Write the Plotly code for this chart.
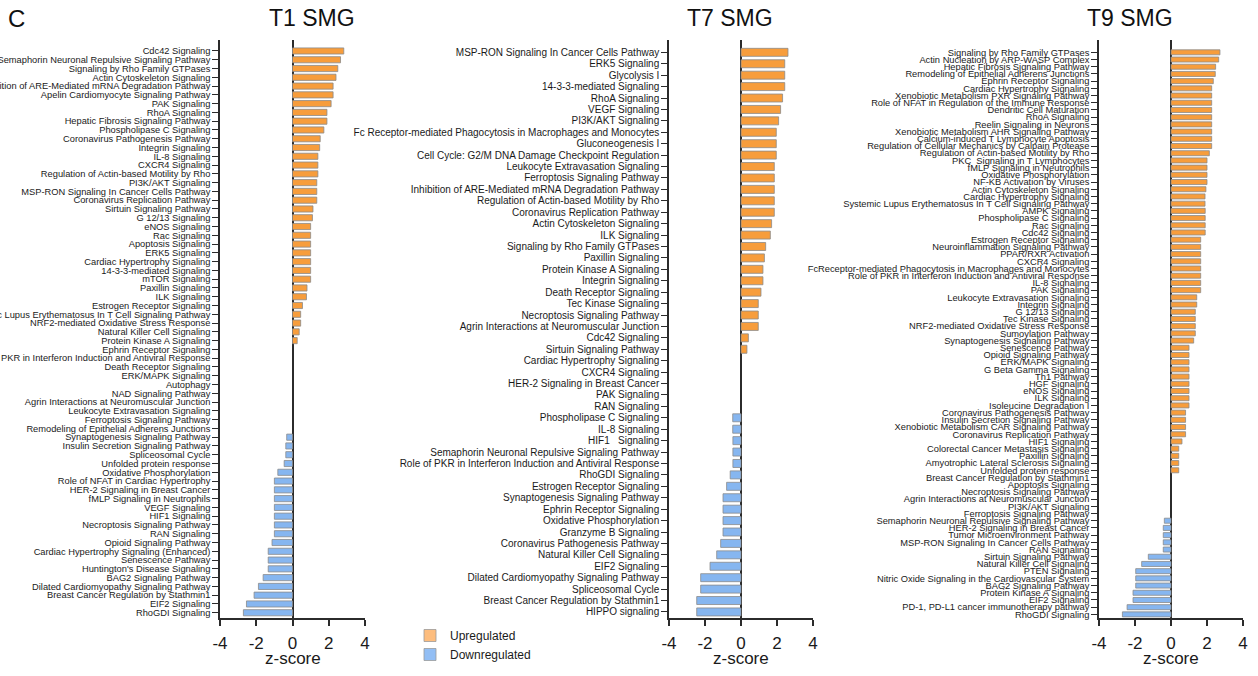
import plotly.graph_objects as go

# ---------------- data ----------------
t1_labels = [
    "Cdc42 Signaling", "Semaphorin Neuronal Repulsive Signaling Pathway", "Signaling by Rho Family GTPases",
    "Actin Cytoskeleton Signaling", "Inhibition of ARE-Mediated mRNA Degradation Pathway",
    "Apelin Cardiomyocyte Signaling Pathway", "PAK Signaling", "RhoA Signaling",
    "Hepatic Fibrosis Signaling Pathway", "Phospholipase C Signaling", "Coronavirus Pathogenesis Pathway",
    "Integrin Signaling", "IL-8 Signaling", "CXCR4 Signaling", "Regulation of Actin-based Motility by Rho",
    "PI3K/AKT Signaling", "MSP-RON Signaling In Cancer Cells Pathway", "Coronavirus Replication Pathway",
    "Sirtuin Signaling Pathway", "G 12/13 Signaling", "eNOS Signaling", "Rac Signaling",
    "Apoptosis Signaling", "ERK5 Signaling", "Cardiac Hypertrophy Signaling", "14-3-3-mediated Signaling",
    "mTOR Signaling", "Paxillin Signaling", "ILK Signaling", "Estrogen Receptor Signaling",
    "Systemic Lupus Erythematosus In T Cell Signaling Pathway", "NRF2-mediated Oxidative Stress Response",
    "Natural Killer Cell Signaling", "Protein Kinase A Signaling", "Ephrin Receptor Signaling",
    "Role of PKR in Interferon Induction and Antiviral Response", "Death Receptor Signaling",
    "ERK/MAPK Signaling", "Autophagy", "NAD Signaling Pathway",
    "Agrin Interactions at Neuromuscular Junction", "Leukocyte Extravasation Signaling",
    "Ferroptosis Signaling Pathway", "Remodeling of Epithelial Adherens Junctions",
    "Synaptogenesis Signaling Pathway", "Insulin Secretion Signaling Pathway", "Spliceosomal Cycle",
    "Unfolded protein response", "Oxidative Phosphorylation", "Role of NFAT in Cardiac Hypertrophy",
    "HER-2 Signaling in Breast Cancer", "fMLP Signaling in Neutrophils", "VEGF Signaling",
    "HIF1 Signaling", "Necroptosis Signaling Pathway", "RAN Signaling", "Opioid Signaling Pathway",
    "Cardiac Hypertrophy Signaling (Enhanced)", "Senescence Pathway", "Huntington's Disease Signaling",
    "BAG2 Signaling Pathway", "Dilated Cardiomyopathy Signaling Pathway",
    "Breast Cancer Regulation by Stathmin1", "EIF2 Signaling", "RhoGDI Signaling",
]
t1_values = [
    2.83, 2.65, 2.5, 2.4, 2.24, 2.24, 2.13, 1.9, 1.9, 1.73, 1.53, 1.5, 1.4, 1.4, 1.4,
    1.34, 1.34, 1.34, 1.13, 1.1, 1.0, 1.0, 1.0, 1.0, 1.0, 1.0, 1.0, 0.8, 0.77, 0.55,
    0.45, 0.45, 0.37, 0.26, 0, 0, 0, 0, 0, 0, 0, 0, 0, 0,
    -0.32, -0.37, -0.37, -0.46, -0.81, -1.0, -1.0, -1.0, -1.0, -1.0, -1.0, -1.0, -1.13,
    -1.34, -1.34, -1.34, -1.62, -1.88, -2.12, -2.54, -2.71,
]

t7_labels = [
    "MSP-RON Signaling In Cancer Cells Pathway", "ERK5 Signaling", "Glycolysis I",
    "14-3-3-mediated Signaling", "RhoA Signaling", "VEGF Signaling", "PI3K/AKT Signaling",
    "Fc Receptor-mediated Phagocytosis in Macrophages and Monocytes", "Gluconeogenesis I",
    "Cell Cycle: G2/M DNA Damage Checkpoint Regulation", "Leukocyte Extravasation Signaling",
    "Ferroptosis Signaling Pathway", "Inhibition of ARE-Mediated mRNA Degradation Pathway",
    "Regulation of Actin-based Motility by Rho", "Coronavirus Replication Pathway",
    "Actin Cytoskeleton Signaling", "ILK Signaling", "Signaling by Rho Family GTPases",
    "Paxillin Signaling", "Protein Kinase A Signaling", "Integrin Signaling", "Death Receptor Signaling",
    "Tec Kinase Signaling", "Necroptosis Signaling Pathway", "Agrin Interactions at Neuromuscular Junction",
    "Cdc42 Signaling", "Sirtuin Signaling Pathway", "Cardiac Hypertrophy Signaling", "CXCR4 Signaling",
    "HER-2 Signaling in Breast Cancer", "PAK Signaling", "RAN Signaling", "Phospholipase C Signaling",
    "IL-8 Signaling", "HIF1\u00a0\u00a0 Signaling", "Semaphorin Neuronal Repulsive Signaling Pathway",
    "Role of PKR in Interferon Induction and Antiviral Response", "RhoGDI Signaling",
    "Estrogen Receptor Signaling", "Synaptogenesis Signaling Pathway", "Ephrin Receptor Signaling",
    "Oxidative Phosphorylation", "Granzyme B Signaling", "Coronavirus Pathogenesis Pathway",
    "Natural Killer Cell Signaling", "EIF2 Signaling", "Dilated Cardiomyopathy Signaling Pathway",
    "Spliceosomal Cycle", "Breast Cancer Regulation by Stathmin1", "HIPPO signaling",
]
t7_values = [
    2.61, 2.43, 2.43, 2.43, 2.31, 2.2, 2.09, 1.96, 1.96, 1.96, 1.85, 1.85, 1.85, 1.85, 1.85,
    1.7, 1.63, 1.37, 1.3, 1.22, 1.22, 1.11, 0.96, 0.96, 0.96, 0.41, 0.33,
    0, 0, 0, 0, 0,
    -0.46, -0.46, -0.45, -0.45, -0.45, -0.6, -0.8, -1.0, -1.0, -1.0, -1.0, -1.13, -1.35,
    -1.72, -2.24, -2.24, -2.46, -2.46,
]

t9_labels = [
    "Signaling by Rho Family GTPases", "Actin Nucleation by ARP-WASP Complex",
    "Hepatic Fibrosis Signaling Pathway", "Remodeling of Epithelial Adherens Junctions",
    "Ephrin Receptor Signaling", "Cardiac Hypertrophy Signaling",
    "Xenobiotic Metabolism PXR Signaling Pathway", "Role of NFAT in Regulation of the Immune Response",
    "Dendritic Cell Maturation", "RhoA Signaling", "Reelin Signaling in Neurons",
    "Xenobiotic Metabolism AHR Signaling Pathway", "Calcium-induced T Lymphocyte Apoptosis",
    "Regulation of Cellular Mechanics by Calpain Protease", "Regulation of Actin-based Motility by Rho",
    "PKC\u00a0 Signaling in T Lymphocytes", "fMLP Signaling in Neutrophils", "Oxidative Phosphorylation",
    "NF-KB Activation by Viruses", "Actin Cytoskeleton Signaling", "Cardiac Hypertrophy Signaling",
    "Systemic Lupus Erythematosus In T Cell Signaling Pathway", "AMPK Signaling",
    "Phospholipase C Signaling", "Rac Signaling", "Cdc42 Signaling", "Estrogen Receptor Signaling",
    "Neuroinflammation Signaling Pathway", "PPAR/RXR Activation", "CXCR4 Signaling",
    "FcReceptor-mediated Phagocytosis in Macrophages and Monocytes",
    "Role of PKR in Interferon Induction and Antiviral Response", "IL-8 Signaling", "PAK Signaling",
    "Leukocyte Extravasation Signaling", "Integrin Signaling", "G 12/13 Signaling", "Tec Kinase Signaling",
    "NRF2-mediated Oxidative Stress Response", "Sumoylation Pathway", "Synaptogenesis Signaling Pathway",
    "Senescence Pathway", "Opioid Signaling Pathway", "ERK/MAPK Signaling", "G Beta Gamma Signaling",
    "Th1 Pathway", "HGF Signaling", "eNOS Signaling", "ILK Signaling", "Isoleucine Degradation I",
    "Coronavirus Pathogenesis Pathway", "Insulin Secretion Signaling Pathway",
    "Xenobiotic Metabolism CAR Signaling Pathway", "Coronavirus Replication Pathway", "HIF1 Signaling",
    "Colorectal Cancer Metastasis Signaling", "Paxillin Signaling",
    "Amyotrophic Lateral Sclerosis Signaling", "Unfolded protein response",
    "Breast Cancer Regulation by Stathmin1", "Apoptosis Signaling", "Necroptosis Signaling Pathway",
    "Agrin Interactions at Neuromuscular Junction", "PI3K/AKT Signaling", "Ferroptosis Signaling Pathway",
    "Semaphorin Neuronal Repulsive Signaling Pathway", "HER-2 Signaling in Breast Cancer",
    "Tumor Microenvironment Pathway", "MSP-RON Signaling In Cancer Cells Pathway", "RAN Signaling",
    "Sirtuin Signaling Pathway", "Natural Killer Cell Signaling", "PTEN Signaling",
    "Nitric Oxide Signaling in the Cardiovascular System", "BAG2 Signaling Pathway",
    "Protein Kinase A Signaling", "EIF2 Signaling", "PD-1, PD-L1 cancer immunotherapy pathway",
    "RhoGDI Signaling",
]
t9_values = [
    2.72, 2.65, 2.48, 2.46, 2.35, 2.26, 2.26, 2.26, 2.26, 2.26, 2.26, 2.26, 2.26, 2.26, 2.13,
    2.0, 2.0, 2.0, 2.0, 1.94, 1.89, 1.89, 1.9, 1.9, 1.9, 1.9,
    1.65, 1.65, 1.65, 1.65, 1.65, 1.65, 1.65, 1.65, 1.43, 1.43, 1.35, 1.35, 1.35, 1.35, 1.26,
    1.0, 1.0, 1.0, 1.0, 1.0, 1.0, 1.0, 1.0, 1.0, 0.81, 0.81, 0.81, 0.81, 0.61,
    0.43, 0.43, 0.43, 0.43, 0, 0, 0, 0, 0, 0,
    -0.37, -0.43, -0.43, -0.43, -0.43, -1.26, -1.63, -1.96, -1.96, -1.96, -2.11, -2.11, -2.44, -2.7,
]

panel_titles = ["T1 SMG", "T7 SMG", "T9 SMG"]
legend_names = ["Upregulated", "Downregulated"]
x_ticks = [-4, -2, 0, 2, 4]
x_tick_text = ["-4", "-2", "0", "2", "4"]

# ---------------- styling / layout ----------------
W, H = 1258, 676
FONT = "Liberation Sans, Arial, Helvetica, sans-serif"
ORANGE = "#F79D3C"
BLUE = "#86B6F0"
ORANGE_LEG = "#FDBD7E"
BLUE_LEG = "#92BEF4"
EDGE = "#8a8a8a"
AXC = "#2b2b2b"

panels = [
    dict(labels=t1_labels, values=t1_values, x0=220, x1=365, tx=312, fs=9.3, top=-1.25, bot=0.6),
    dict(labels=t7_labels, values=t7_values, x0=669, x1=813, tx=730, fs=10.0, top=-1.08, bot=0.53),
    dict(labels=t9_labels, values=t9_values, x0=1099, x1=1243, tx=1130, fs=9.3, top=-1.71, bot=0.5),
]
PLOT_TOP, PLOT_BOT = 40, 618

fig = go.Figure()
layout = {}
annotations = []
for i, p in enumerate(panels):
    suf = "" if i == 0 else str(i + 1)
    xa, ya = "x" + suf, "y" + suf
    n = len(p["labels"])
    pos = [(k, v) for k, v in enumerate(p["values"]) if v > 0]
    neg = [(k, v) for k, v in enumerate(p["values"]) if v < 0]
    fig.add_trace(go.Bar(
        x=[v for _, v in pos], y=[k for k, _ in pos], orientation="h", width=0.7,
        marker=dict(color=ORANGE, line=dict(color=EDGE, width=0.8)),
        name=legend_names[0], legendgroup="up", showlegend=False, xaxis=xa, yaxis=ya))
    fig.add_trace(go.Bar(
        x=[v for _, v in neg], y=[k for k, _ in neg], orientation="h", width=0.7,
        marker=dict(color=BLUE, line=dict(color=EDGE, width=0.8)),
        name=legend_names[1], legendgroup="down", showlegend=False, xaxis=xa, yaxis=ya))

    layout["xaxis" + suf] = dict(
        domain=[p["x0"] / W, p["x1"] / W], range=[-4, 4], anchor=ya,
        tickvals=x_ticks, ticktext=x_tick_text, tickfont=dict(size=17, color="#1a1a1a"),
        showline=True, linecolor=AXC, linewidth=1.5, mirror=False,
        ticks="outside", ticklen=6, tickwidth=1.5, tickcolor=AXC, ticklabelstandoff=3,
        zeroline=True, zerolinecolor=AXC, zerolinewidth=1.5, showgrid=False,
        automargin=False, fixedrange=True)
    layout["yaxis" + suf] = dict(
        domain=[(H - PLOT_BOT) / H, (H - PLOT_TOP) / H], anchor=xa,
        range=[n - 1 + p["bot"], p["top"]],
        tickmode="array", tickvals=list(range(n)), ticktext=p["labels"],
        tickfont=dict(size=p["fs"], color="#1a1a1a"),
        showline=True, linecolor=AXC, linewidth=1.5,
        ticks="outside", ticklen=6, tickwidth=1.2, tickcolor=AXC,
        zeroline=False, showgrid=False, automargin=False, fixedrange=True)

    annotations.append(dict(
        text=panel_titles[i], x=p["tx"] / W, y=(H - 18) / H, xref="paper", yref="paper",
        xanchor="center", yanchor="middle", showarrow=False, font=dict(size=23, color="#111")))
    annotations.append(dict(
        text="z-score", x=(p["x0"] + p["x1"]) / 2 / W, y=(H - 658) / H, xref="paper", yref="paper",
        xanchor="center", yanchor="middle", showarrow=False, font=dict(size=17, color="#1a1a1a")))

annotations.append(dict(
    text="C", x=16 / W, y=(H - 18) / H, xref="paper", yref="paper", xanchor="center",
    yanchor="middle", showarrow=False, font=dict(size=24, color="#111")))

# legend-only entries (lighter swatches as in the reference legend)
for name, col, grp in [(legend_names[0], ORANGE_LEG, "up"), (legend_names[1], BLUE_LEG, "down")]:
    fig.add_trace(go.Bar(x=[None], y=[None], orientation="h", name=name, legendgroup=grp,
                         marker=dict(color=col, line=dict(color="#9a9a9a", width=0.8)),
                         showlegend=True, hoverinfo="skip"))

fig.update_layout(
    width=W, height=H, margin=dict(l=0, r=0, t=0, b=0),
    paper_bgcolor="white", plot_bgcolor="white",
    font=dict(family=FONT, color="#1a1a1a"),
    barmode="overlay", bargap=0.3,
    showlegend=True,
    legend=dict(x=410 / W, y=(H - 621) / H, xanchor="left", yanchor="top",
                font=dict(size=12), bgcolor="rgba(0,0,0,0)", tracegroupgap=0,
                traceorder="normal"),
    annotations=annotations,
    **layout,
)

fig.write_html("out.html", config={"displayModeBar": False},
               post_script="document.body.style.margin='0';document.body.style.overflow='hidden';")
